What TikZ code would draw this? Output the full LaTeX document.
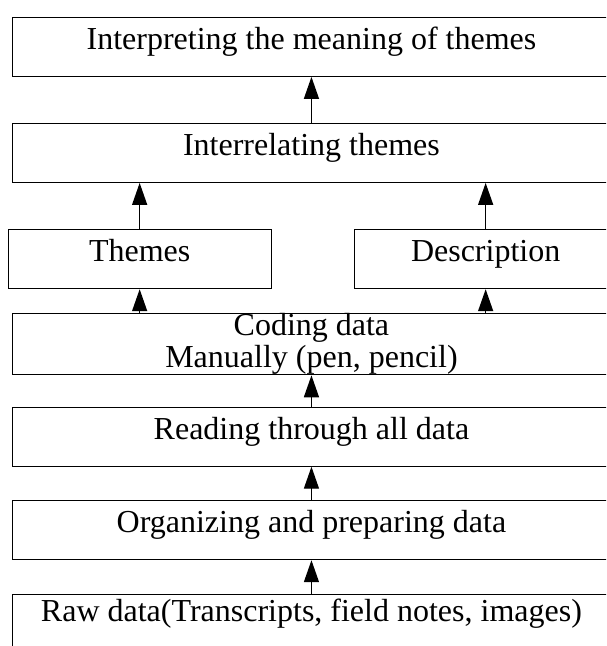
\documentclass[tikz,border=0pt]{standalone}
\usepackage{fontspec}
\setmainfont{Liberation Serif}
\usetikzlibrary{arrows.meta}
\begin{document}
\begin{tikzpicture}[x=1pt,y=-1pt,
  box/.style={draw=black, line width=0.9pt, inner sep=0pt, anchor=north west,
    font=\fontsize{32}{32}\selectfont},
  single/.style={box, text height=0.68em, text depth=0.14em},
  wide/.style={minimum width=598pt, minimum height=59.3pt},
  half/.style={minimum width=263pt, minimum height=59.3pt},
  flow/.style={-{Triangle[length=22pt,width=15pt]}, line width=1.4pt}]
\useasboundingbox (0,0) rectangle (606,646);
\clip (0,0) rectangle (606,646);

% stages, from the top of the hierarchy down
\node[single, wide] (interp)   at (12,16.7)  {Interpreting the meaning of themes};
\node[single, wide] (interrel) at (12,122.7) {Interrelating themes};
\node[single, half] (themes)   at (7.7,229)  {Themes};
\node[single, half] (descr)    at (353.7,229) {Description};
\node[box, wide, align=center] (coding) at (12,313.3) {Coding data\\Manually (pen, pencil)};
\node[single, wide] (reading)  at (12,406.5) {Reading through all data};
\node[single, wide] (organize) at (12,500)   {Organizing and preparing data};
\node[box, wide, minimum height=60pt, text height=0.5em, text depth=1.0em]
     (raw) at (12,594) {Raw data(Transcripts, field notes, images)};

% upward flow between stages
\draw[flow] (raw.north) -- (organize.south);
\draw[flow] (organize.north) -- (reading.south);
\draw[flow] (reading.north) -- (coding.south);
\draw[flow] (coding.north -| themes.center) -- (themes.south);
\draw[flow] (coding.north -| descr.center) -- (descr.south);
\draw[flow] (themes.north) -- (themes.north |- interrel.south);
\draw[flow] (descr.north) -- (descr.north |- interrel.south);
\draw[flow] (interrel.north) -- (interp.south);
\end{tikzpicture}
\end{document}
